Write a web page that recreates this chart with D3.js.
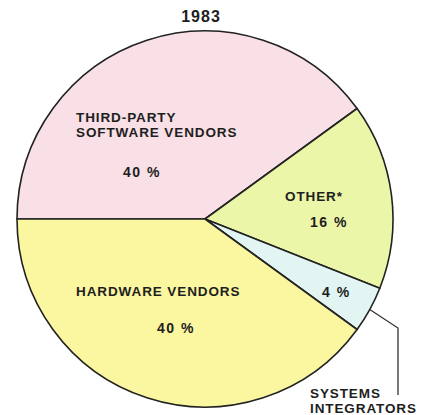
<!DOCTYPE html>
<html>
<head>
<meta charset="utf-8">
<script src="https://cdn.jsdelivr.net/npm/d3@7"></script>
<style>
  html, body { margin: 0; padding: 0; background: #ffffff; }
  svg { display: block; }
  text { font-family: "Liberation Sans", Arial, sans-serif; font-weight: bold; fill: #1e1e1e; }
</style>
</head>
<body>
<svg id="chart" width="427" height="415"></svg>
<script>
const title = "1983";
const categories = ["THIRD-PARTY SOFTWARE VENDORS", "OTHER*", "SYSTEMS INTEGRATORS", "HARDWARE VENDORS"];
const values = [40, 16, 4, 40];
const colors = ["#f8e0e6", "#ecf6a8", "#e2f5f3", "#fbf7a0"];

const W = 427, H = 415;
const cx = 205, cy = 219, R = 188;

const svg = d3.select("#chart");

svg.append("text")
  .attr("x", 201).attr("y", 22)
  .attr("text-anchor", "middle")
  .style("font-size", "16px")
  .style("letter-spacing", "1px")
  .text(title);

const pie = d3.pie().sort(null).value(d => d.v)
  .startAngle(-Math.PI / 2).endAngle(1.5 * Math.PI);
const data = categories.map((c, i) => ({ c, v: values[i], col: colors[i] }));
const arcs = pie(data);
const arc = d3.arc().innerRadius(0).outerRadius(R);

const g = svg.append("g").attr("transform", `translate(${cx},${cy})`);
g.selectAll("path").data(arcs).join("path")
  .attr("d", arc)
  .attr("fill", d => d.data.col)
  .attr("stroke", "#222")
  .attr("stroke-width", 1.6)
  .attr("stroke-linejoin", "round");

// label layout (positions relative to page)
const labelLayout = {
  "THIRD-PARTY SOFTWARE VENDORS": { lines: [["THIRD-PARTY", 76, 122], ["SOFTWARE VENDORS", 76, 137]], pct: [123, 177] },
  "OTHER*": { lines: [["OTHER*", 285, 201]], pct: [310, 227] },
  "SYSTEMS INTEGRATORS": { lines: [["SYSTEMS", 310, 398], ["INTEGRATORS", 310, 413]], pct: [322, 297] },
  "HARDWARE VENDORS": { lines: [["HARDWARE VENDORS", 76, 296]], pct: [157, 333] }
};

arcs.forEach(a => {
  const L = labelLayout[a.data.c];
  L.lines.forEach(([t, x, y]) => {
    svg.append("text").attr("x", x).attr("y", y)
      .style("font-size", "13.5px").style("letter-spacing", "0.9px").text(t);
  });
  svg.append("text").attr("x", L.pct[0]).attr("y", L.pct[1])
    .style("font-size", "14px").style("letter-spacing", "1.5px").text(a.data.v + " %");
});

// leader line for systems integrators
const sys = arcs[2];
const mid = (sys.startAngle + sys.endAngle) / 2;
const p0 = [cx + R * Math.sin(mid), cy - R * Math.cos(mid)];
svg.append("path")
  .attr("d", d3.line()([p0, [398, 328], [398, 395]]))
  .attr("fill", "none").attr("stroke", "#333").attr("stroke-width", 1.3);
</script>
</body>
</html>
